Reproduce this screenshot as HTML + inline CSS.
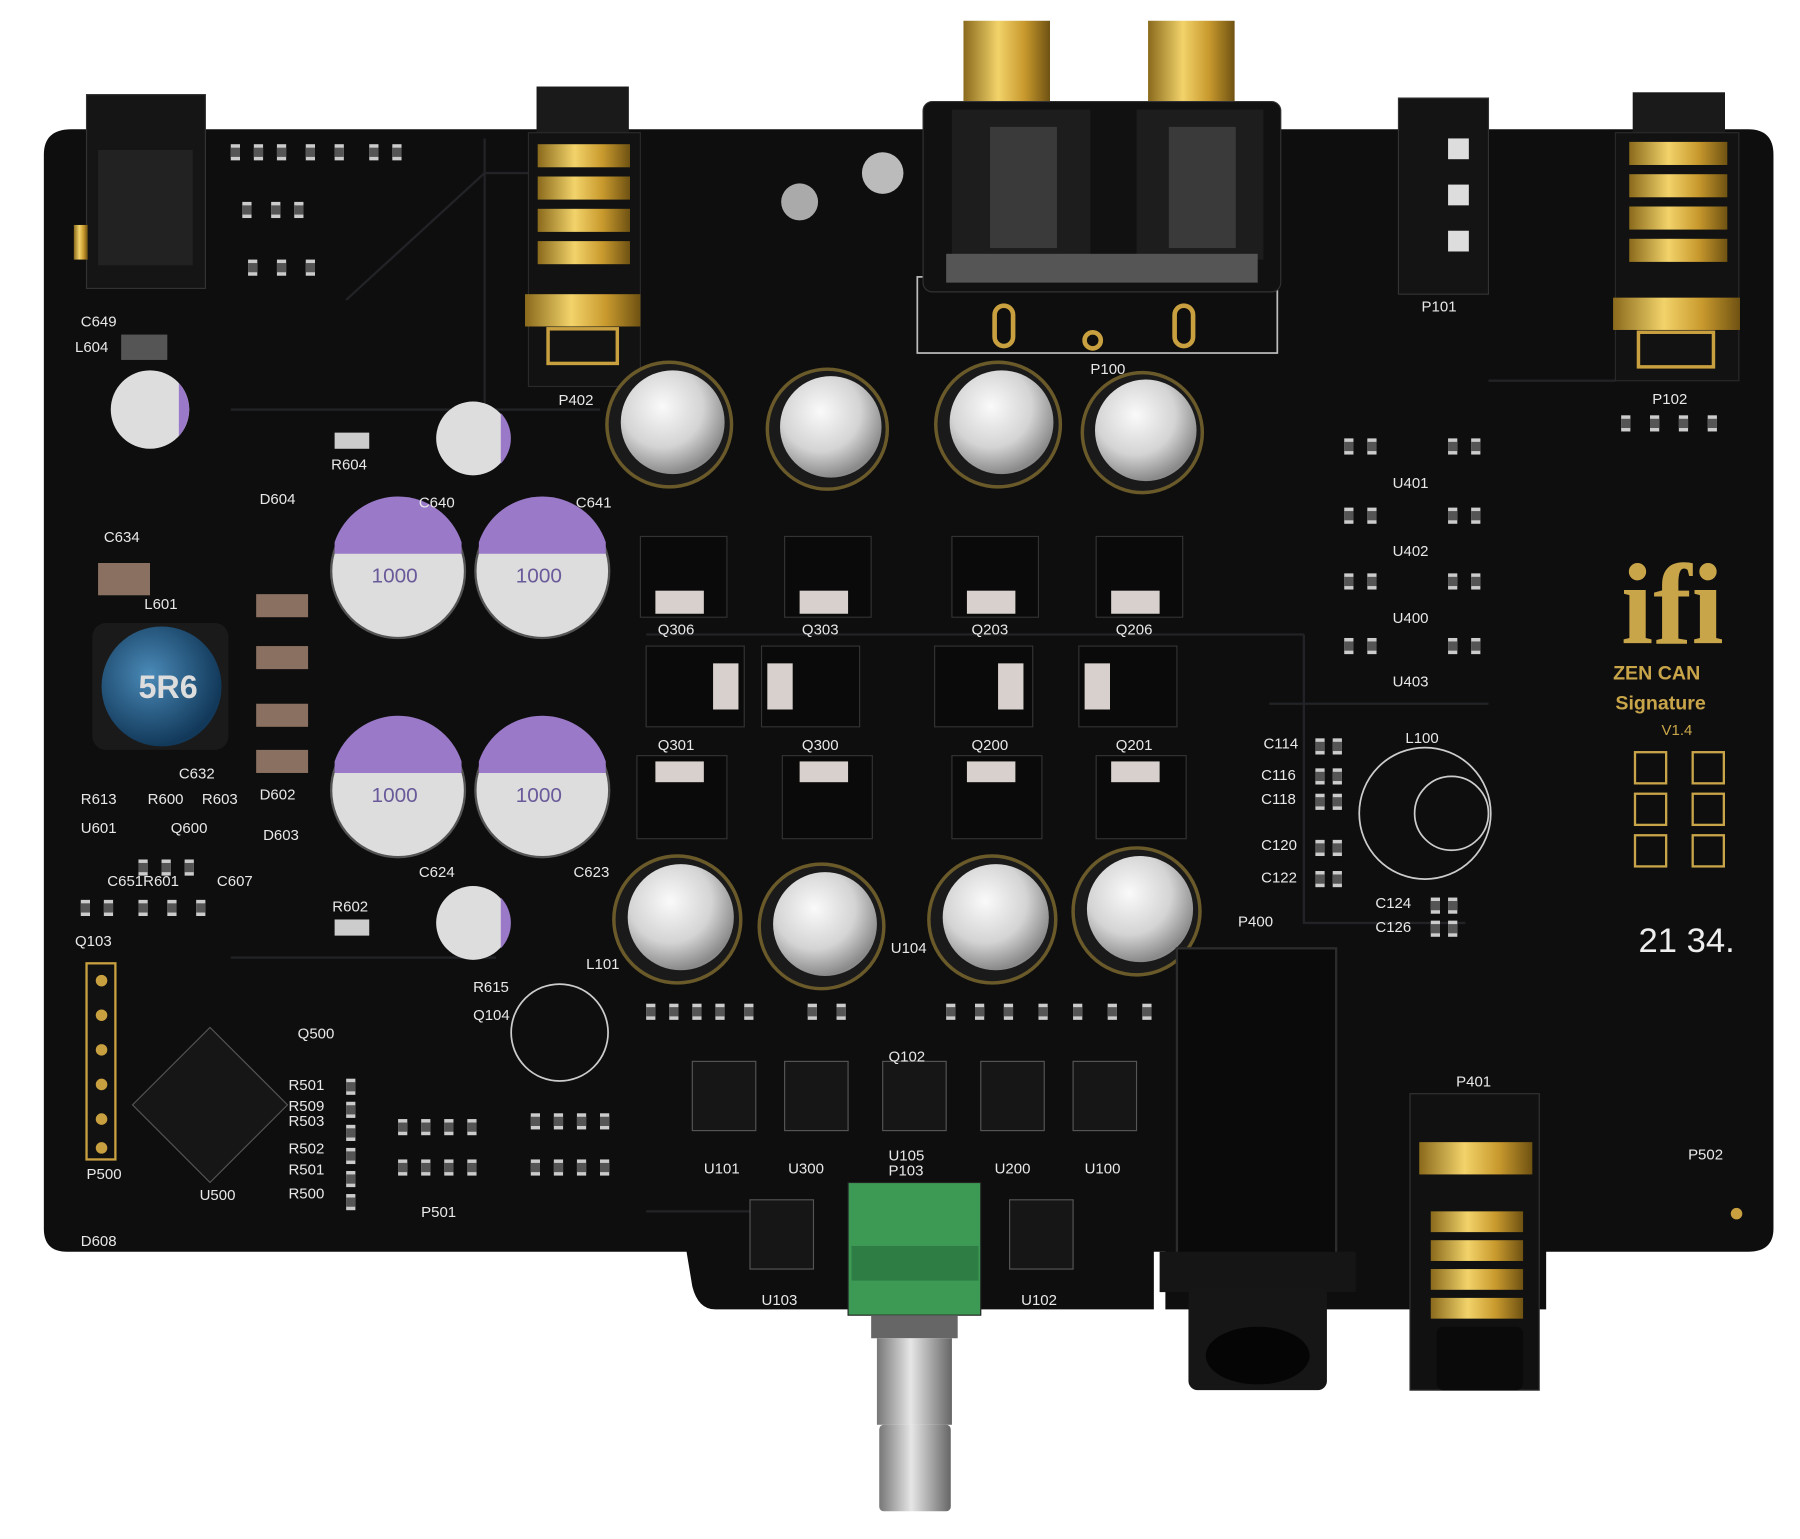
<!DOCTYPE html>
<html><head><meta charset="utf-8"><style>
html,body{margin:0;padding:0;background:#fff;}
svg{display:block;}
text{font-family:"Liberation Sans",sans-serif;fill:#e8e8e8;}
</style></head><body>
<svg width="1800" height="1539" viewBox="0 0 1560 1334" preserveAspectRatio="none" xmlns="http://www.w3.org/2000/svg">
<defs>
<radialGradient id="silver" cx="40%" cy="35%" r="65%"><stop offset="0" stop-color="#fafafa"/><stop offset="0.6" stop-color="#d4d4d4"/><stop offset="1" stop-color="#8a8a8a"/></radialGradient>
<linearGradient id="gold" x1="0" x2="1"><stop offset="0" stop-color="#8a6a1c"/><stop offset="0.4" stop-color="#f2d36a"/><stop offset="0.7" stop-color="#c99a2e"/><stop offset="1" stop-color="#6f5212"/></linearGradient>
<radialGradient id="blue" cx="40%" cy="40%" r="60%"><stop offset="0" stop-color="#4a8ab8"/><stop offset="1" stop-color="#12395a"/></radialGradient>
<linearGradient id="metal" x1="0" x2="1"><stop offset="0" stop-color="#777"/><stop offset="0.45" stop-color="#e6e6e6"/><stop offset="1" stop-color="#666"/></linearGradient>
<g id="smd"><rect x="0" y="0" width="8" height="14" fill="#ccc"/><rect x="0" y="3" width="8" height="8" fill="#555"/></g>
</defs>
<rect width="1560" height="1334" fill="#fff"/>
<path d="M62,112 L1515,112 Q1537,112 1537,134 L1537,1065 Q1537,1085 1515,1085 L1340,1085 L1340,1135 L1010,1135 L1010,1085 L1000,1085 L1000,1135 L620,1135 Q605,1135 600,1115 L595,1085 L58,1085 Q38,1085 38,1065 L38,134 Q38,112 62,112 Z" fill="#0e0e0f"/>
<g stroke="#222326" stroke-width="2" fill="none">
<path d="M200,355 L520,355 M560,550 L1130,550 M1130,550 L1130,800 L1270,800 M300,260 L420,150 L540,150 M200,830 L430,830 M420,120 L420,360 M1290,330 L1400,330 M1100,610 L1290,610 M560,1050 L700,1050"/>
</g>
<rect x="795" y="240" width="312" height="66" fill="none" stroke="#bbb" stroke-width="1.5"/>
<!-- SMD clusters -->
<g>
<use href="#smd" x="200" y="125"/><use href="#smd" x="220" y="125"/><use href="#smd" x="240" y="125"/><use href="#smd" x="265" y="125"/><use href="#smd" x="290" y="125"/><use href="#smd" x="320" y="125"/><use href="#smd" x="340" y="125"/>
<use href="#smd" x="210" y="175"/><use href="#smd" x="235" y="175"/><use href="#smd" x="255" y="175"/><use href="#smd" x="215" y="225"/><use href="#smd" x="240" y="225"/><use href="#smd" x="265" y="225"/>
<use href="#smd" x="1165" y="380"/><use href="#smd" x="1185" y="380"/><use href="#smd" x="1255" y="380"/><use href="#smd" x="1275" y="380"/>
<use href="#smd" x="1165" y="440"/><use href="#smd" x="1185" y="440"/><use href="#smd" x="1255" y="440"/><use href="#smd" x="1275" y="440"/>
<use href="#smd" x="1165" y="497"/><use href="#smd" x="1185" y="497"/><use href="#smd" x="1255" y="497"/><use href="#smd" x="1275" y="497"/>
<use href="#smd" x="1165" y="553"/><use href="#smd" x="1185" y="553"/><use href="#smd" x="1255" y="553"/><use href="#smd" x="1275" y="553"/>
<use href="#smd" x="1405" y="360"/><use href="#smd" x="1430" y="360"/><use href="#smd" x="1455" y="360"/><use href="#smd" x="1480" y="360"/>
<use href="#smd" x="1140" y="640"/><use href="#smd" x="1155" y="640"/><use href="#smd" x="1140" y="666"/><use href="#smd" x="1155" y="666"/><use href="#smd" x="1140" y="688"/><use href="#smd" x="1155" y="688"/><use href="#smd" x="1140" y="728"/><use href="#smd" x="1155" y="728"/><use href="#smd" x="1140" y="755"/><use href="#smd" x="1155" y="755"/>
<use href="#smd" x="1240" y="778"/><use href="#smd" x="1255" y="778"/><use href="#smd" x="1240" y="798"/><use href="#smd" x="1255" y="798"/>
<use href="#smd" x="560" y="870"/><use href="#smd" x="580" y="870"/><use href="#smd" x="600" y="870"/><use href="#smd" x="620" y="870"/><use href="#smd" x="645" y="870"/><use href="#smd" x="700" y="870"/><use href="#smd" x="725" y="870"/><use href="#smd" x="820" y="870"/><use href="#smd" x="845" y="870"/><use href="#smd" x="870" y="870"/><use href="#smd" x="900" y="870"/><use href="#smd" x="930" y="870"/><use href="#smd" x="960" y="870"/><use href="#smd" x="990" y="870"/>
<use href="#smd" x="460" y="965"/><use href="#smd" x="480" y="965"/><use href="#smd" x="500" y="965"/><use href="#smd" x="520" y="965"/><use href="#smd" x="460" y="1005"/><use href="#smd" x="480" y="1005"/><use href="#smd" x="500" y="1005"/><use href="#smd" x="520" y="1005"/>
<use href="#smd" x="300" y="935"/><use href="#smd" x="300" y="955"/><use href="#smd" x="300" y="975"/><use href="#smd" x="300" y="995"/><use href="#smd" x="300" y="1015"/><use href="#smd" x="300" y="1035"/>
<use href="#smd" x="120" y="745"/><use href="#smd" x="140" y="745"/><use href="#smd" x="160" y="745"/><use href="#smd" x="120" y="780"/><use href="#smd" x="145" y="780"/><use href="#smd" x="170" y="780"/><use href="#smd" x="70" y="780"/><use href="#smd" x="90" y="780"/>
<use href="#smd" x="345" y="970"/><use href="#smd" x="365" y="970"/><use href="#smd" x="385" y="970"/><use href="#smd" x="405" y="970"/><use href="#smd" x="345" y="1005"/><use href="#smd" x="365" y="1005"/><use href="#smd" x="385" y="1005"/><use href="#smd" x="405" y="1005"/>
</g>
<rect x="290" y="375" width="30" height="14" fill="#ccc"/><rect x="290" y="797" width="30" height="14" fill="#ccc"/>
<rect x="105" y="290" width="40" height="22" fill="#555"/>
<!-- DC jack -->
<rect x="75" y="82" width="103" height="168" fill="#151515" stroke="#333"/>
<rect x="85" y="130" width="82" height="100" fill="#222"/>
<rect x="64" y="195" width="12" height="30" fill="url(#gold)"/>
<!-- HP jack TL -->
<rect x="465" y="75" width="80" height="60" fill="#1a1a1a"/>
<rect x="458" y="115" width="97" height="220" fill="#121212" stroke="#2a2a2a"/>
<g fill="url(#gold)"><rect x="466" y="125" width="80" height="20"/><rect x="466" y="153" width="80" height="20"/><rect x="466" y="181" width="80" height="20"/><rect x="466" y="209" width="80" height="20"/><rect x="455" y="255" width="100" height="28"/></g>
<rect x="475" y="285" width="60" height="30" fill="none" stroke="#c9a040" stroke-width="3"/>
<!-- HP jack TR -->
<rect x="1415" y="80" width="80" height="50" fill="#1a1a1a"/>
<rect x="1400" y="115" width="107" height="215" fill="#121212" stroke="#2a2a2a"/>
<g fill="url(#gold)"><rect x="1412" y="123" width="85" height="20"/><rect x="1412" y="151" width="85" height="20"/><rect x="1412" y="179" width="85" height="20"/><rect x="1412" y="207" width="85" height="20"/><rect x="1398" y="258" width="110" height="28"/></g>
<rect x="1420" y="288" width="65" height="30" fill="none" stroke="#c9a040" stroke-width="3"/>
<!-- P101 -->
<rect x="1212" y="85" width="78" height="170" fill="#141414" stroke="#333"/>
<g fill="#ddd"><rect x="1255" y="120" width="18" height="18"/><rect x="1255" y="160" width="18" height="18"/><rect x="1255" y="200" width="18" height="18"/></g>
<!-- RCA -->
<rect x="835" y="18" width="75" height="75" fill="url(#gold)"/>
<rect x="995" y="18" width="75" height="75" fill="url(#gold)"/>
<rect x="800" y="88" width="310" height="165" rx="8" fill="#111" stroke="#333"/>
<rect x="825" y="95" width="120" height="130" fill="#1d1d1d"/><rect x="985" y="95" width="110" height="130" fill="#1d1d1d"/>
<rect x="858" y="110" width="58" height="105" fill="#3a3a3a"/><rect x="1013" y="110" width="58" height="105" fill="#3a3a3a"/>
<rect x="820" y="220" width="270" height="25" fill="#555"/>
<rect x="862" y="265" width="16" height="35" rx="8" fill="none" stroke="#c9a040" stroke-width="4"/>
<rect x="1018" y="265" width="16" height="35" rx="8" fill="none" stroke="#c9a040" stroke-width="4"/>
<circle cx="947" cy="295" r="7" fill="none" stroke="#c9a040" stroke-width="4"/>
<circle cx="693" cy="175" r="16" fill="#aaa"/><circle cx="765" cy="150" r="18" fill="#bbb"/>
<!-- silver caps -->
<g fill="#1a1a1a" stroke="#6a5a2a" stroke-width="3">
<circle cx="580" cy="368" r="54"/><circle cx="717" cy="372" r="52"/><circle cx="865" cy="368" r="54"/><circle cx="990" cy="375" r="52"/>
<circle cx="587" cy="797" r="55"/><circle cx="712" cy="803" r="54"/><circle cx="860" cy="797" r="55"/><circle cx="985" cy="790" r="55"/>
</g>
<g>
<circle cx="583" cy="366" r="45" fill="url(#silver)"/><circle cx="720" cy="370" r="44" fill="url(#silver)"/>
<circle cx="868" cy="366" r="45" fill="url(#silver)"/><circle cx="993" cy="373" r="44" fill="url(#silver)"/>
<circle cx="590" cy="795" r="46" fill="url(#silver)"/><circle cx="715" cy="801" r="45" fill="url(#silver)"/>
<circle cx="863" cy="795" r="46" fill="url(#silver)"/><circle cx="988" cy="788" r="46" fill="url(#silver)"/>
</g>
<!-- regulators -->
<g fill="#0a0a0a" stroke="#333">
<rect x="555" y="465" width="75" height="70"/><rect x="680" y="465" width="75" height="70"/><rect x="825" y="465" width="75" height="70"/><rect x="950" y="465" width="75" height="70"/>
<rect x="560" y="560" width="85" height="70"/><rect x="660" y="560" width="85" height="70"/><rect x="810" y="560" width="85" height="70"/><rect x="935" y="560" width="85" height="70"/>
<rect x="552" y="655" width="78" height="72"/><rect x="678" y="655" width="78" height="72"/><rect x="825" y="655" width="78" height="72"/><rect x="950" y="655" width="78" height="72"/>
</g>
<g fill="#d8d0cc"><rect x="568" y="512" width="42" height="20"/><rect x="693" y="512" width="42" height="20"/><rect x="838" y="512" width="42" height="20"/><rect x="963" y="512" width="42" height="20"/>
<rect x="618" y="575" width="22" height="40"/><rect x="665" y="575" width="22" height="40"/><rect x="865" y="575" width="22" height="40"/><rect x="940" y="575" width="22" height="40"/>
<rect x="568" y="660" width="42" height="18"/><rect x="693" y="660" width="42" height="18"/><rect x="838" y="660" width="42" height="18"/><rect x="963" y="660" width="42" height="18"/></g>
<!-- purple caps -->
<g>
<circle cx="345" cy="495" r="58" fill="#ddd" stroke="#555" stroke-width="2"/><path d="M290,470 A58,58 0 0 1 400,470 L400,480 L290,480Z" fill="#9a7ac8"/>
<circle cx="470" cy="495" r="58" fill="#ddd" stroke="#555" stroke-width="2"/><path d="M415,470 A58,58 0 0 1 525,470 L525,480 L415,480Z" fill="#9a7ac8"/>
<circle cx="345" cy="685" r="58" fill="#ddd" stroke="#555" stroke-width="2"/><path d="M290,660 A58,58 0 0 1 400,660 L400,670 L290,670Z" fill="#9a7ac8"/>
<circle cx="470" cy="685" r="58" fill="#ddd" stroke="#555" stroke-width="2"/><path d="M415,660 A58,58 0 0 1 525,660 L525,670 L415,670Z" fill="#9a7ac8"/>
<circle cx="130" cy="355" r="34" fill="#ddd"/><path d="M155,332 A34,34 0 0 1 155,378Z" fill="#9a7ac8"/>
<circle cx="410" cy="380" r="32" fill="#ddd"/><path d="M434,358 A32,32 0 0 1 434,402Z" fill="#9a7ac8"/>
<circle cx="410" cy="800" r="32" fill="#ddd"/><path d="M434,778 A32,32 0 0 1 434,822Z" fill="#9a7ac8"/>
</g>
<g font-size="18">
<text x="322" y="505" style="fill:#6a5a9a">1000</text><text x="447" y="505" style="fill:#6a5a9a">1000</text><text x="322" y="695" style="fill:#6a5a9a">1000</text><text x="447" y="695" style="fill:#6a5a9a">1000</text>
</g>
<!-- inductor -->
<rect x="80" y="540" width="118" height="110" rx="12" fill="#1a1a1a"/>
<circle cx="140" cy="595" r="52" fill="url(#blue)"/>
<text x="120" y="605" font-size="28" font-weight="bold" style="fill:#ddd">5R6</text>
<g fill="#8a7060"><rect x="222" y="515" width="45" height="20"/><rect x="222" y="560" width="45" height="20"/><rect x="222" y="610" width="45" height="20"/><rect x="222" y="650" width="45" height="20"/><rect x="85" y="488" width="45" height="28"/></g>
<!-- ICs -->
<g fill="#161616" stroke="#555">
<rect x="135" y="910" width="95" height="95" transform="rotate(45 182 957)"/>
<rect x="600" y="920" width="55" height="60"/><rect x="680" y="920" width="55" height="60"/><rect x="765" y="920" width="55" height="60"/><rect x="850" y="920" width="55" height="60"/><rect x="930" y="920" width="55" height="60"/>
<rect x="650" y="1040" width="55" height="60"/><rect x="875" y="1040" width="55" height="60"/>
</g>
<rect x="75" y="835" width="25" height="170" fill="#111" stroke="#c9a040" stroke-width="2"/>
<g fill="#c9a040"><circle cx="88" cy="850" r="5"/><circle cx="88" cy="880" r="5"/><circle cx="88" cy="910" r="5"/><circle cx="88" cy="940" r="5"/><circle cx="88" cy="970" r="5"/><circle cx="88" cy="995" r="5"/></g>
<circle cx="485" cy="895" r="42" fill="none" stroke="#ccc" stroke-width="1.5"/>
<circle cx="1235" cy="705" r="57" fill="none" stroke="#ccc" stroke-width="1.5"/><circle cx="1258" cy="705" r="32" fill="none" stroke="#ccc" stroke-width="1.5"/>
<!-- pot -->
<rect x="735" y="1025" width="115" height="115" fill="#3c9a55" stroke="#222"/>
<rect x="738" y="1080" width="110" height="30" fill="#2d7d45"/>
<rect x="755" y="1140" width="75" height="20" fill="#666"/>
<rect x="760" y="1160" width="65" height="75" fill="url(#metal)"/>
<rect x="762" y="1235" width="62" height="75" rx="4" fill="url(#metal)"/>
<!-- big jack -->
<rect x="1020" y="822" width="138" height="272" fill="#0a0a0a" stroke="#2c2c2c" stroke-width="2"/>
<rect x="1005" y="1085" width="170" height="35" fill="#151515"/>
<rect x="1030" y="1115" width="120" height="90" rx="8" fill="#161616"/>
<ellipse cx="1090" cy="1175" rx="45" ry="25" fill="#050505"/>
<!-- P401 -->
<rect x="1222" y="948" width="112" height="257" fill="#111" stroke="#333"/>
<g fill="url(#gold)"><rect x="1230" y="990" width="98" height="28"/><rect x="1240" y="1050" width="80" height="18"/><rect x="1240" y="1075" width="80" height="18"/><rect x="1240" y="1100" width="80" height="18"/><rect x="1240" y="1125" width="80" height="18"/></g>
<rect x="1245" y="1150" width="75" height="55" rx="6" fill="#0a0a0a"/>
<!-- logo -->
<text x="1405" y="558" font-size="100" font-weight="bold" style="fill:#c9a54a;font-family:'Liberation Serif',serif">ifi</text>
<text x="1398" y="589" font-size="17" font-weight="bold" style="fill:#c9a54a">ZEN CAN</text>
<text x="1400" y="615" font-size="17" font-weight="bold" style="fill:#c9a54a">Signature</text>
<text x="1440" y="637" font-size="13" style="fill:#c9a54a">V1.4</text>
<g fill="none" stroke="#c9a54a" stroke-width="2"><rect x="1417" y="652" width="27" height="27"/><rect x="1467" y="652" width="27" height="27"/><rect x="1417" y="688" width="27" height="27"/><rect x="1467" y="688" width="27" height="27"/><rect x="1417" y="724" width="27" height="27"/><rect x="1467" y="724" width="27" height="27"/></g>
<text x="1420" y="825" font-size="30" style="fill:#eee">21 34.</text>
<circle cx="1505" cy="1052" r="5" fill="#c9a040"/>
<!-- labels -->
<g font-size="13">
<text x="70" y="283">C649</text><text x="65" y="305">L604</text><text x="287" y="407">R604</text><text x="225" y="437">D604</text><text x="90" y="470">C634</text><text x="125" y="528">L601</text>
<text x="70" y="697">R613</text><text x="128" y="697">R600</text><text x="175" y="697">R603</text><text x="225" y="693">D602</text><text x="70" y="722">U601</text><text x="148" y="722">Q600</text><text x="228" y="728">D603</text>
<text x="93" y="768">C651R601</text><text x="188" y="768">C607</text><text x="288" y="790">R602</text><text x="65" y="820">Q103</text><text x="155" y="675">C632</text>
<text x="258" y="900">Q500</text><text x="250" y="945">R501</text><text x="250" y="963">R509</text><text x="250" y="976">R503</text><text x="250" y="1000">R502</text><text x="250" y="1018">R501</text><text x="250" y="1039">R500</text>
<text x="75" y="1022">P500</text><text x="173" y="1040">U500</text><text x="365" y="1055">P501</text><text x="70" y="1080">D608</text><text x="410" y="860">R615</text><text x="410" y="884">Q104</text><text x="508" y="840">L101</text>
<text x="1095" y="649">C114</text><text x="1093" y="676">C116</text><text x="1093" y="697">C118</text><text x="1093" y="737">C120</text><text x="1093" y="765">C122</text><text x="1218" y="644">L100</text>
<text x="1192" y="787">C124</text><text x="1192" y="808">C126</text><text x="1073" y="803">P400</text><text x="1262" y="942">P401</text><text x="1463" y="1005">P502</text><text x="1232" y="270">P101</text><text x="945" y="324">P100</text><text x="484" y="351">P402</text><text x="1432" y="350">P102</text>
<text x="570" y="650">Q301</text><text x="695" y="650">Q300</text><text x="842" y="650">Q200</text><text x="967" y="650">Q201</text><text x="570" y="550">Q306</text><text x="695" y="550">Q303</text><text x="842" y="550">Q203</text><text x="967" y="550">Q206</text>
<text x="610" y="1017">U101</text><text x="683" y="1017">U300</text><text x="862" y="1017">U200</text><text x="940" y="1017">U100</text><text x="770" y="1006">U105</text><text x="770" y="1019">P103</text><text x="772" y="826">U104</text><text x="770" y="920">Q102</text>
<text x="660" y="1131">U103</text><text x="885" y="1131">U102</text><text x="497" y="760">C623</text><text x="363" y="760">C624</text><text x="499" y="440">C641</text><text x="363" y="440">C640</text>
<text x="1207" y="423">U401</text><text x="1207" y="482">U402</text><text x="1207" y="540">U400</text><text x="1207" y="595">U403</text>
</g>
</svg>
</body></html>
